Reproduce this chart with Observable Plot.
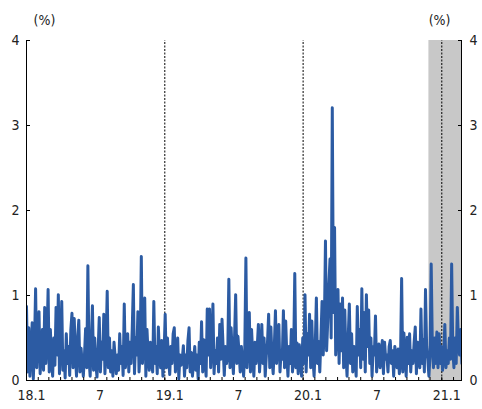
<!DOCTYPE html>
<html><head><meta charset="utf-8">
<script src="https://cdn.jsdelivr.net/npm/d3@7"></script>
<script src="https://cdn.jsdelivr.net/npm/@observablehq/plot@0.6"></script>
<style>body{margin:0;background:#fff} svg{display:block}</style>
</head><body><div id="chart"></div>
<script>
const startDate = "2018-01-01";
const endDate = "2021-02-22";
const stepDays = 3;
const values = [
0.87,0.1,0.62,0.05,0.35,0.68,0.02,0.4,1.08,0.15,
0.55,0.81,0.08,0.3,0.6,0.12,0.86,0.2,0.45,1.07,
0.1,0.6,0.25,0.05,0.5,0.18,0.86,0.3,1.01,0.08,
0.45,0.93,0.12,0.35,0.03,0.55,0.2,0.4,0.06,0.6,
0.79,0.15,0.73,0.3,0.05,0.5,0.71,0.1,0.38,0.2,
0.05,0.3,0.61,0.15,1.35,0.25,0.05,0.45,0.88,0.12,
0.5,0.2,0.04,0.35,0.74,0.1,0.45,0.25,0.78,0.08,
0.4,1.05,0.15,0.5,0.1,0.35,0.05,0.45,0.28,0.08,
0.3,0.12,0.55,0.2,0.4,0.06,0.9,0.15,0.35,0.55,
0.1,0.45,0.2,0.6,1.13,0.08,0.5,0.3,0.81,0.1,
0.35,1.46,0.2,0.5,0.97,0.05,0.6,0.3,0.12,0.45,
0.25,0.1,0.93,0.2,0.4,0.08,0.63,0.3,0.15,0.47,
0.05,0.3,0.78,0.15,0.5,0.25,0.07,0.4,0.2,0.55,
0.62,0.1,0.35,0.5,0.02,0.3,0.18,0.25,0.41,0.05,
0.3,0.15,0.47,0.62,0.1,0.33,0.05,0.24,0.4,0.12,
0.3,0.02,0.45,0.2,0.69,0.1,0.48,0.25,0.05,0.84,
0.3,0.84,0.15,0.44,0.9,0.08,0.35,0.2,0.5,0.1,
0.66,0.25,0.72,0.38,0.06,0.4,0.2,0.3,1.19,0.15,
0.62,0.3,0.08,0.5,1.01,0.2,0.52,0.33,0.1,0.4,
0.25,0.05,0.35,1.44,0.15,0.5,0.8,0.1,0.6,0.3,
0.05,0.45,0.2,0.4,0.66,0.1,0.35,0.66,0.2,0.5,
0.05,0.3,0.45,0.78,0.15,0.63,0.25,0.08,0.4,0.82,
0.2,0.5,0.66,0.1,0.35,0.25,0.82,0.15,0.7,0.3,
0.05,0.4,0.2,0.6,0.1,0.3,1.26,0.15,0.44,0.08,
0.42,0.25,0.05,0.5,0.2,1.01,0.1,0.55,0.3,0.78,
0.15,0.7,0.25,0.05,0.4,0.97,0.2,0.46,0.1,0.5,
0.93,0.3,0.6,1.64,0.35,0.7,1.13,1.43,0.5,3.21,
0.8,1.8,0.3,0.6,1.07,0.2,0.9,0.35,0.97,0.15,
0.83,0.3,0.05,0.5,0.9,0.2,0.55,0.1,0.4,0.25,
0.05,0.87,0.3,0.6,0.15,1.08,0.25,0.8,0.1,1.01,
0.4,0.83,0.2,0.5,0.05,0.4,0.3,0.76,0.1,0.35,
0.43,0.15,0.3,0.47,0.08,0.45,0.25,0.3,0.1,0.4,
0.47,0.2,0.35,0.05,0.4,0.3,0.15,0.37,0.08,0.25,
1.2,0.1,0.56,0.3,0.05,0.51,0.2,0.55,0.1,0.35,
0.2,0.45,0.63,0.08,0.45,0.3,0.15,0.84,0.2,0.48,
0.1,1.07,0.4,0.25,0.05,0.3,1.37,0.43,0.15,0.5,
0.2,0.57,0.15,0.55,0.2,0.4,0.12,0.3,0.66,0.15,
0.35,0.2,0.5,0.25,1.37,0.37,0.15,0.5,0.2,0.86,
0.43,0.3,0.6,0.2
];
const yTicks = [0, 1, 2, 3, 4];
const yearLines = ["2019-01-01", "2020-01-01", "2021-01-01"];
const xLabelDates = ["2018-01-01","2018-07-01","2019-01-01","2019-07-01","2020-01-01","2020-07-01","2021-01-01"];
const xLabelText = ["18.1","7","19.1","7","20.1","7","21.1"];
const shadeStart = "2020-11-28";
const unitLabel = "(%)";

const start = new Date(startDate), end = new Date(endDate);
const data = values.map((v, i) => ({date: d3.utcDay.offset(start, stepDays * i), v}));
const months = d3.utcMonth.range(start, end);
const labelMap = new Map(xLabelDates.map((d, i) => [+new Date(d), xLabelText[i]]));
const font = "'DejaVu Sans Condensed','Liberation Sans Narrow',sans-serif";

const chart = Plot.plot({
  width: 482, height: 409,
  marginLeft: 26, marginRight: 21, marginTop: 40, marginBottom: 29,
  style: {fontFamily: font, fontSize: "14px", color: "#222", background: "#fff"},
  x: {type: "utc", domain: [start, end]},
  y: {domain: [0, 4]},
  marks: [
    Plot.rect([{x1: new Date(shadeStart), x2: end}], {x1: "x1", x2: "x2", y1: 0, y2: 4, fill: "#c8c8c8"}),
    Plot.ruleX(yearLines.map(d => new Date(d)), {y1: 0, y2: 4, stroke: "#000", strokeWidth: 1, strokeDasharray: "2,1.5"}),
    Plot.lineY(data, {x: "date", y: "v", stroke: "#2c5ba3", strokeWidth: 3, clip: true}),
    Plot.ruleX([start], {y1: 0, y2: 4, stroke: "#000"}),
    Plot.ruleX([end], {y1: 0, y2: 4, stroke: "#000"}),
    Plot.ruleY([0], {stroke: "#000"}),
    Plot.axisY(yTicks, {anchor: "left", tickSize: 0, tickPadding: 7, tickFormat: d => String(d), label: null, fill: "#222"}),
    Plot.axisY(yTicks, {anchor: "left", tickSize: -4, tickFormat: () => "", label: null, stroke: "#000"}),
    Plot.axisY(yTicks, {anchor: "right", tickSize: 0, tickPadding: 8, tickFormat: d => String(d), label: null, fill: "#222"}),
    Plot.axisY(yTicks, {anchor: "right", tickSize: -4, tickFormat: () => "", label: null, stroke: "#000"}),
    Plot.axisX(months, {anchor: "bottom", tickSize: -3, tickFormat: () => "", label: null, stroke: "#000"}),
    Plot.axisX(xLabelDates.map(d => new Date(d)), {anchor: "bottom", tickSize: 0, tickPadding: 10, dx: 5, tickFormat: d => labelMap.get(+d), label: null, fill: "#222"}),
    Plot.text([unitLabel], {frameAnchor: "top-left", dx: 7, dy: -25, fill: "#222"}),
    Plot.text([unitLabel], {frameAnchor: "top-right", dx: -11, dy: -25, fill: "#222"})
  ]
});
document.getElementById("chart").appendChild(chart);
</script>
</body></html>
